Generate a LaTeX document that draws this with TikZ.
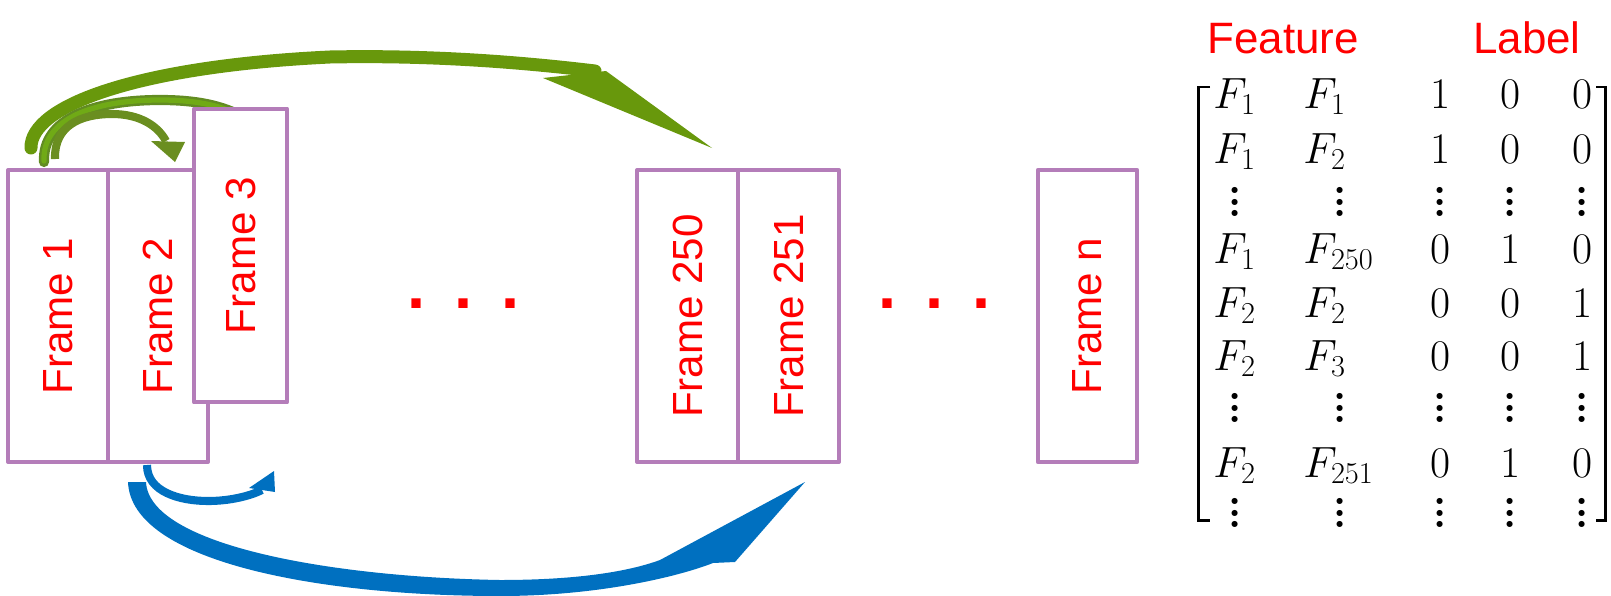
\documentclass[tikz,border=0pt]{standalone}
\usepackage{fontspec}
\usepackage{graphicx}
\newfontfamily\arialf{Liberation Sans}
\usetikzlibrary{calc}
\definecolor{framecol}{RGB}{180,125,185}
\definecolor{redtxt}{RGB}{255,0,0}
\definecolor{greenA}{RGB}{106,142,32}
\definecolor{greenB}{RGB}{112,170,22}
\definecolor{greenBedge}{RGB}{98,140,34}
\definecolor{greenC}{RGB}{104,152,12}
\definecolor{blueA}{RGB}{0,112,192}
\pgfdeclarelayer{bg}
\pgfsetlayers{bg,main}
\newcommand\myvd{\vbox{\baselineskip=6.7pt\lineskiplimit=0pt\hbox{.}\hbox{.}\hbox{.}}}
\begin{document}
\begin{tikzpicture}[x=0.02cm,y=-0.02cm,
  framebox/.style={draw=framecol, line width=2.3pt, fill=white, line join=round,
    inner sep=0pt, text=redtxt, font=\arialf\fontsize{24}{28}\selectfont},
  hdr/.style={anchor=base, inner sep=0pt, text=redtxt, font=\arialf\fontsize{25}{30}\selectfont},
  hdots/.style={inner sep=0pt, text=redtxt, font=\arialf\bfseries\fontsize{37}{40}\selectfont},
  ent/.style={inner sep=0pt, anchor=base, font=\fontsize{25}{30}\selectfont},
  entw/.style={ent, anchor=base west},
  vd/.style={inner sep=0pt, font=\bfseries\fontsize{24}{24}\selectfont},
  brk/.style={line width=1.7pt, line join=miter},
]
\useasboundingbox (0,0) rectangle (1611,595);

% frames
\node[framebox, minimum width=2cm, minimum height=5.84cm] (f1) at (58,316) {\rotatebox{90}{Frame 1}};
\node[framebox, minimum width=2cm, minimum height=5.84cm] (f2) at (158,316) {\rotatebox{90}{Frame 2}};
\node[framebox, minimum width=1.86cm, minimum height=5.88cm] (f3) at (240.5,255.5) {\rotatebox{90}{Frame 3}};
\node[framebox, minimum width=2.02cm, minimum height=5.84cm] (f250) at (687.5,316) {\rotatebox{90}{Frame 250}};
\node[framebox, minimum width=2.02cm, minimum height=5.84cm] (f251) at (788.5,316) {\rotatebox{90}{Frame 251}};
\node[framebox, minimum width=1.99cm, minimum height=5.84cm] (fn) at (1087.5,316) {\rotatebox{90}{Frame n}};

% ellipses
\node[hdots] (d1) at (463.5,304) {.\hspace{16.6pt}.\hspace{16.6pt}.};
\node[hdots] (d2) at (934.5,304) {.\hspace{16.6pt}.\hspace{16.6pt}.};

% arrows on background layer
\begin{pgfonlayer}{bg}
  \coordinate (tipC) at (712,148);
  \coordinate (tipA) at (175,162);
  \coordinate (tipBa) at (274,471);
  \coordinate (tipBb) at (805,482);
  % large green arrow: frame 1 -> frame 250
  \draw[line width=7.4pt, draw=greenC, line cap=round]
    (31,148) .. controls (30,105) and (140,66) .. (330,57)
             .. controls (430,55) and (520,62) .. (595,71);
  \fill[greenC, line join=round] (543,78) -- (606,71) -- (tipC) -- cycle;
  % medium green arrow: frame 1 -> frame 3
  \draw[line width=5.8pt, draw=greenBedge, line cap=round]
    (44,162) .. controls (42,118) and (95,100) .. (160,100)
             .. controls (195,100) and (222,105) .. (245,118);
  \draw[line width=3.0pt, draw=greenB, line cap=round]
    (44,161) .. controls (42,118) and (95,100) .. (160,100)
             .. controls (195,100) and (222,105) .. (245,118);
  % small green arrow: frame 1 -> frame 2
  \draw[line width=4.6pt, draw=greenA]
    (55,159) .. controls (54,126) and (80,114) .. (112,114)
             .. controls (140,114) and (158,126) .. (166,141);
  \fill[greenA] (151,141) -- (185,142) -- (tipA) -- cycle;
  % small blue arrow: frame 2 -> frame 3
  \draw[line width=4.6pt, draw=blueA]
    (147,465) .. controls (147,492) and (180,501) .. (208,501)
              .. controls (230,501) and (250,496) .. (262,490);
  \fill[blueA] (249,488) -- (tipBa) -- (275,492) -- cycle;
  % large blue arrow: frame 2 -> frame 251
  \fill[blueA]
    (128,482) .. controls (131,562) and (320,596) .. (500,596)
              .. controls (600,596) and (680,576) .. (713,563)
    -- (735,562) -- (tipBb) -- (660,560)
    .. controls (630,571) and (580,580) .. (500,580)
    .. controls (330,577) and (149,545) .. (146,482) -- cycle;
\end{pgfonlayer}

% headers
\node[hdr] (feat) at (1283,53) {Feature};
\node[hdr] (lab) at (1527,53) {Label};

% matrix brackets
\draw[brk] (1210,87) -- (1198,87) -- (1198,520) -- (1210,520);
\draw[brk] (1596,87) -- (1605,87) -- (1605,520) -- (1596,520);

% matrix rows
\node[entw] (a11) at (1213,108) {$F_1$};
\node[entw] (a12) at (1303,108) {$F_1$};
\node[ent] (a13) at (1440,108) {$1$};
\node[ent] (a14) at (1510,108) {$0$};
\node[ent] (a15) at (1582,108) {$0$};

\node[entw] (a21) at (1213,163) {$F_1$};
\node[entw] (a22) at (1303,163) {$F_2$};
\node[ent] (a23) at (1440,163) {$1$};
\node[ent] (a24) at (1510,163) {$0$};
\node[ent] (a25) at (1582,163) {$0$};

\node[vd] (v31) at (1235,202) {\myvd};
\node[vd] (v32) at (1340,202) {\myvd};
\node[vd] (v33) at (1440,202) {\myvd};
\node[vd] (v34) at (1510,202) {\myvd};
\node[vd] (v35) at (1582,202) {\myvd};

\node[entw] (a41) at (1213,263) {$F_1$};
\node[entw] (a42) at (1303,263) {$F_{250}$};
\node[ent] (a43) at (1440,263) {$0$};
\node[ent] (a44) at (1510,263) {$1$};
\node[ent] (a45) at (1582,263) {$0$};

\node[entw] (a51) at (1213,317) {$F_2$};
\node[entw] (a52) at (1303,317) {$F_2$};
\node[ent] (a53) at (1440,317) {$0$};
\node[ent] (a54) at (1510,317) {$0$};
\node[ent] (a55) at (1582,317) {$1$};

\node[entw] (a61) at (1213,370) {$F_2$};
\node[entw] (a62) at (1303,370) {$F_3$};
\node[ent] (a63) at (1440,370) {$0$};
\node[ent] (a64) at (1510,370) {$0$};
\node[ent] (a65) at (1582,370) {$1$};

\node[vd] (v71) at (1235,408) {\myvd};
\node[vd] (v72) at (1340,408) {\myvd};
\node[vd] (v73) at (1440,408) {\myvd};
\node[vd] (v74) at (1510,408) {\myvd};
\node[vd] (v75) at (1582,408) {\myvd};

\node[entw] (a81) at (1213,477) {$F_2$};
\node[entw] (a82) at (1303,477) {$F_{251}$};
\node[ent] (a83) at (1440,477) {$0$};
\node[ent] (a84) at (1510,477) {$1$};
\node[ent] (a85) at (1582,477) {$0$};

\node[vd] (v91) at (1235,513) {\myvd};
\node[vd] (v92) at (1340,513) {\myvd};
\node[vd] (v93) at (1440,513) {\myvd};
\node[vd] (v94) at (1510,513) {\myvd};
\node[vd] (v95) at (1582,513) {\myvd};
\end{tikzpicture}
\end{document}
